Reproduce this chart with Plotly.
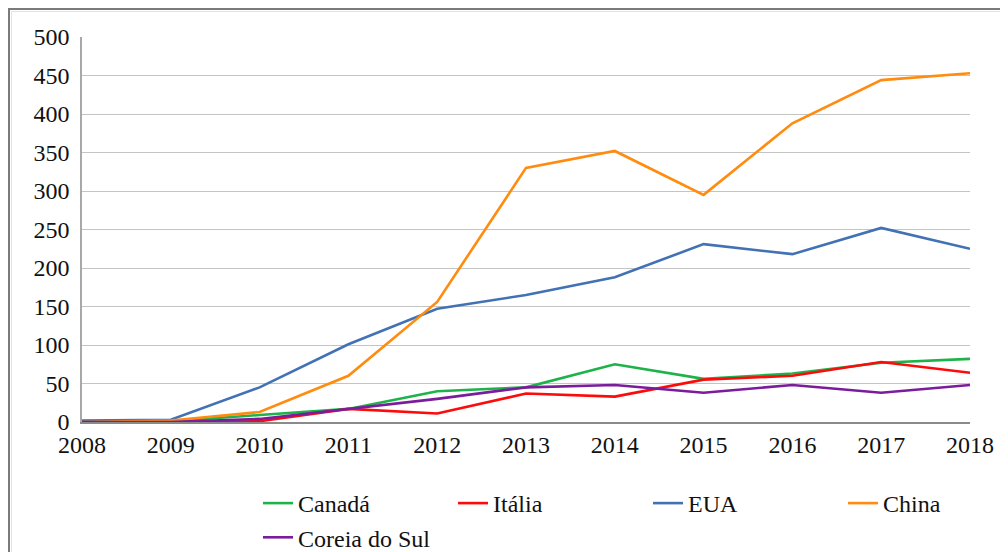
import base64

import plotly.graph_objects as go

years = [2008, 2009, 2010, 2011, 2012, 2013, 2014, 2015, 2016, 2017, 2018]

canada = [0, 1, 9, 17, 40, 45, 75, 56, 63, 77, 82]
italia = [0, 0, 1, 17, 11, 37, 33, 55, 60, 78, 64]
eua = [2, 3, 45, 101, 147, 165, 188, 231, 218, 252, 225]
china = [0, 2, 13, 60, 156, 330, 352, 295, 388, 444, 453]
coreia = [0, 0, 4, 17, 30, 45, 48, 38, 48, 38, 48]

series = [
    ("Canadá", canada, "#1db34a"),
    ("Itália", italia, "#ff0a0a"),
    ("EUA", eua, "#4272b4"),
    ("China", china, "#ff8c0f"),
    ("Coreia do Sul", coreia, "#7a1c9c"),
]

# the page puts the figure at (8, 8); everything below is in page pixels
OFF = 8
FIG_W, FIG_H = 1008 - OFF, 552 - OFF
L, R, T, B = 82, 970, 37, 422
W, H = R - L, B - T


def px_x(p):
    return (p - L) / W


def px_y(p):
    return (B - p) / H


FONT = "Liberation Serif"
TXT = dict(family=FONT, size=24, color="#111")

fig = go.Figure()
for name, vals, color in series:
    fig.add_trace(go.Scatter(x=years, y=vals, name=name, mode="lines",
                             line=dict(color=color, width=2.6)))

# frame (top and left edges) as a transparent svg over the whole figure
frame_svg = (
    f'<svg xmlns="http://www.w3.org/2000/svg" width="{FIG_W}" height="{FIG_H}">'
    f'<path d="M1,{FIG_H} V1 H{FIG_W}" fill="none" stroke="#7a7a7a" stroke-width="2"/>'
    f'<path d="M3.5,{FIG_H} V3.5 H{FIG_W}" fill="none" stroke="#e2e2e2" stroke-width="1"/>'
    '</svg>'
)
frame_src = "data:image/svg+xml;base64," + base64.b64encode(frame_svg.encode()).decode()

fig.update_layout(
    width=FIG_W, height=FIG_H,
    margin=dict(l=L - OFF, r=FIG_W - (R - OFF), t=T - OFF, b=FIG_H - (B - OFF),
                autoexpand=False),
    font=TXT,
    paper_bgcolor="white", plot_bgcolor="white",
    showlegend=True,
    legend=dict(orientation="h", x=px_x(258), y=px_y(481),
                xanchor="left", yanchor="top", entrywidth=150,
                entrywidthmode="pixels", bgcolor="rgba(0,0,0,0)", font=TXT),
    images=[dict(source=frame_src, xref="paper", yref="paper",
                 x=px_x(OFF), y=px_y(OFF), sizex=FIG_W / W, sizey=FIG_H / H,
                 xanchor="left", yanchor="top", sizing="stretch", layer="above")],
)

fig.update_xaxes(
    range=[2008, 2018], tickvals=years, ticktext=[str(y) for y in years],
    showgrid=False, showline=True, linecolor="#8a8a8a", linewidth=1.5,
    tickfont=TXT, zeroline=False,
)
fig.update_yaxes(
    range=[0, 500], dtick=50, showgrid=True, gridcolor="#c4c4c4", gridwidth=1.3,
    showline=True, linecolor="#a8a8a8", linewidth=1.5,
    tickfont=TXT, ticklabelstandoff=6, zeroline=False,
)

fig.write_html("out.html")
